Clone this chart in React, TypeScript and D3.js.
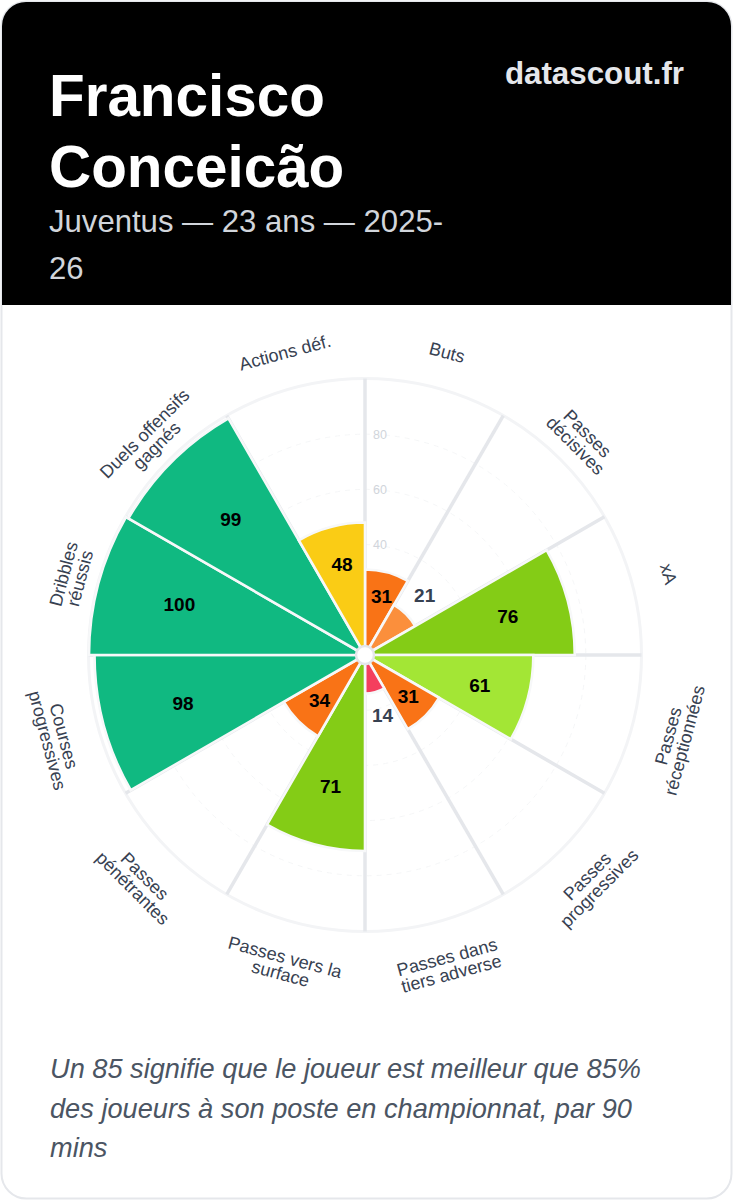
import React from "react";
import * as d3 from "d3";

const categories = ["Buts", "Passes\ndécisives", "xA", "Passes\nréceptionnées", "Passes\nprogressives", "Passes dans\ntiers adverse", "Passes vers la\nsurface", "Passes\npénétrantes", "Courses\nprogressives", "Dribbles\nréussis", "Duels offensifs\ngagnés", "Actions déf."];
const values = [31, 21, 76, 61, 31, 14, 71, 34, 98, 100, 99, 48];
const gridTicks = [20, 40, 60, 80];
const scaleTicks = [40, 60, 80];
const titleLines = ["Francisco", "Conceicão"];
const subtitleLines = ["Juventus — 23 ans — 2025-", "26"];
const brand = "datascout.fr";
const footerLines = ["Un 85 signifie que le joueur est meilleur que 85%", "des joueurs à son poste en championnat, par 90", "mins"];
const colorStops = [20, 30, 40, 60, 70, 95];
const colorRange = ["#f43f5e", "#fb8f3c", "#f97316", "#facc15", "#a3e635", "#84cc16", "#10b981"];

const W = 733, H = 1200;
const CX = 365, CY = 655;
const FONT = "'Liberation Sans', Arial, sans-serif";

const r = d3.scaleLinear().domain([0, 100]).range([0, 276]);
const angle = d3.scaleBand<number>().domain(d3.range(categories.length)).range([0, 2 * Math.PI]);
const color = d3.scaleThreshold<number, string>().domain(colorStops).range(colorRange);
const arc = d3.arc<number>()
  .innerRadius(0)
  .outerRadius((d) => r(values[d]))
  .startAngle((d) => angle(d)!)
  .endAngle((d) => angle(d)! + angle.bandwidth());

const polar = (a: number, radius: number): [number, number] => [Math.sin(a) * radius, -Math.cos(a) * radius];

export default function App() {
  const mid = (i: number) => angle(i)! + angle.bandwidth() / 2;
  return (
    <svg width={W} height={H} viewBox={`0 0 ${W} ${H}`} style={{ position: "absolute", left: 0, top: 0, display: "block" }} fontFamily={FONT}>
      <defs>
        <clipPath id="hd"><path d="M2 305V26a24 24 0 0 1 24-24H707a24 24 0 0 1 24 24V305Z" /></clipPath>
      </defs>
      <rect x={0} y={0} width={W} height={H} fill="#ffffff" />
      <rect x={1.5} y={1.5} width={730} height={1197} rx={25} fill="#ffffff" stroke="#e5e7eb" strokeWidth={2} />
      <rect x={2} y={2} width={729} height={303} fill="#000000" clipPath="url(#hd)" />
      {titleLines.map((t, i) => (
        <text key={t} x={49} y={116 + i * 71} fontSize={58.4} fontWeight={700} fill="#ffffff">{t}</text>
      ))}
      {subtitleLines.map((t, i) => (
        <text key={t} x={49} y={232 + i * 46.5} fontSize={31.1} fill="#d1d5db">{t}</text>
      ))}
      <text x={684} y={84} textAnchor="end" fontSize={31.3} fontWeight={700} fill="#e5e7eb">{brand}</text>

      <g transform={`translate(${CX},${CY})`}>
        <circle r={r(100) + 0.5} fill="none" stroke="#f3f4f6" strokeWidth={3} />
        {gridTicks.map((t) => (
          <circle key={t} r={r(t)} fill="none" stroke="#f3f4f6" strokeOpacity={0.85} strokeWidth={1} strokeDasharray="5 5" />
        ))}
        {categories.map((_, i) => {
          const [x, y] = polar(angle(i)!, r(100) + 0.5);
          return <line key={i} x1={0} y1={0} x2={x} y2={y} stroke="#e5e7eb" strokeWidth={3.5} />;
        })}
        {scaleTicks.map((t) => (
          <text key={t} x={15} y={-(t * 2.75)} textAnchor="middle" dominantBaseline="central" fontSize={12.5} fill="#d1d5db">{t}</text>
        ))}
        {values.map((_, i) => (
          <path key={i} d={arc(i)!} fill={color(values[i])} stroke="#f7f8f9" strokeWidth={2.6} />
        ))}
        <circle r={9} fill="#ffffff" stroke="#e5e7eb" strokeWidth={2.5} />
        {values.map((v, i) => {
          const inside = v >= 30;
          const [x, y] = polar(mid(i), inside ? r(v) * 0.7 : r(v) + 25);
          return (
            <text key={i} x={x + 1} y={y - 0.5} textAnchor="middle" dominantBaseline="central" fontSize={19} fontWeight={700} fill={inside ? "#000000" : "#374151"}>{v}</text>
          );
        })}
        {categories.map((c, i) => {
          const a = mid(i);
          const [x, y] = polar(a, 313);
          const deg = (a * 180) / Math.PI;
          const rot = deg > 90 && deg < 270 ? deg - 180 : deg;
          return (
            <g key={c} transform={`translate(${x + 1},${y}) rotate(${rot})`}>
              {c.split("\n").map((l, j) => (
                <text key={l} y={j * 17} textAnchor="middle" dominantBaseline="central" fontSize={18} fill="#374151">{l}</text>
              ))}
            </g>
          );
        })}
      </g>

      {footerLines.map((t, i) => (
        <text key={t} x={50} y={1078 + i * 39.5} fontSize={27.2} fontStyle="italic" fill="#4b5563">{t}</text>
      ))}
    </svg>
  );
}
